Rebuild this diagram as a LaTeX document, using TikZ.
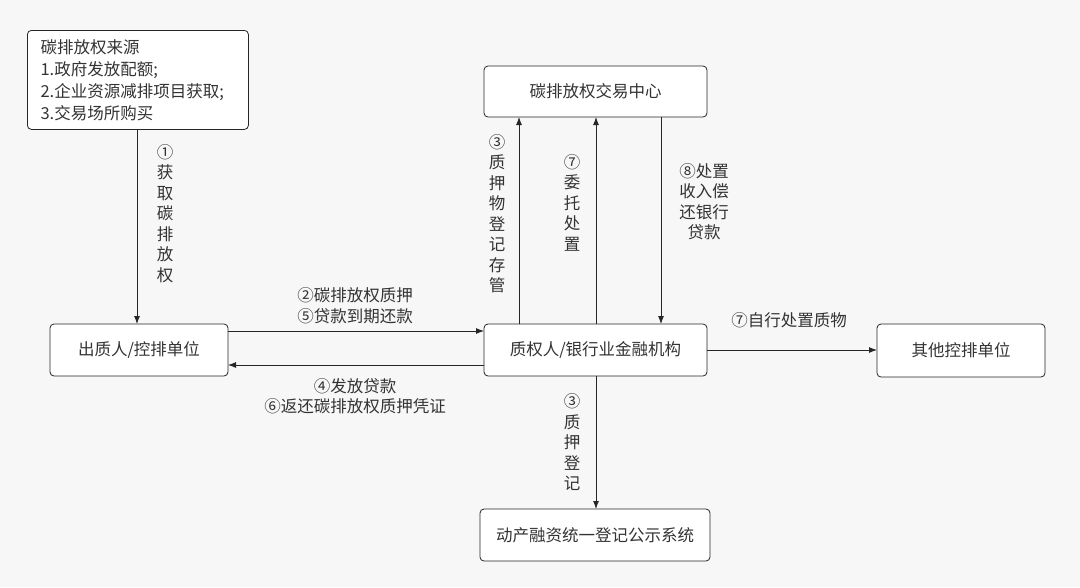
\documentclass[tikz,border=0pt]{standalone}
\usepackage{fontspec}
\setmainfont{Noto Sans CJK SC}
\begin{document}
\begin{tikzpicture}[x=1pt,y=-1pt,
  box/.style={draw=black!85,rounded corners=4pt,line width=0.8pt,inner sep=0pt},
  lbl/.style={font=\fontsize{16.5}{20.5}\selectfont,text=black!80,align=center},
  arr/.style={draw=black!85,line width=0.9pt,-{Latex[length=8pt,width=6pt]}}]
\usetikzlibrary{arrows.meta}
\fill[white!97!black] (0,0) rectangle (1080,587);
\useasboundingbox (0,0) rectangle (1080,587);
\node[box,minimum width=221,minimum height=99,anchor=north west,fill=white] (src) at (27,30) {};
\node[lbl,align=left,anchor=north west,font=\fontsize{16.5}{22}\selectfont] at (37,36) {碳排放权来源\\1.政府发放配额;\\2.企业资源减排项目获取;\\3.交易场所购买};
\node[box,minimum width=223,minimum height=51,fill=white,lbl] (tc) at (595.5,91.5) {碳排放权交易中心};
\node[box,minimum width=178,minimum height=52,fill=white,lbl] (pl) at (139,350) {出质人/控排单位};
\node[box,minimum width=223,minimum height=52,fill=white,lbl] (bk) at (595.5,350) {质权人/银行业金融机构};
\node[box,minimum width=168,minimum height=53,fill=white,lbl] (ot) at (961,350.5) {其他控排单位};
\node[box,minimum width=230,minimum height=52,fill=white,lbl] (rg) at (595,535) {动产融资统一登记公示系统};
\coordinate (a1) at (137,129); \coordinate (a2) at (137,324);
\draw[arr] (a1) -- (a2);
\node[lbl,anchor=north] at (165,141) {①\\获\\取\\碳\\排\\放\\权};
\coordinate (b1) at (228,331); \coordinate (b2) at (484,331);
\draw[arr] (b1) -- (b2);
\node[lbl,anchor=south] at (355,327) {②碳排放权质押\\⑤贷款到期还款};
\coordinate (c1) at (484,365); \coordinate (c2) at (228,365);
\draw[arr] (c1) -- (c2);
\node[lbl,anchor=north] at (355,375) {④发放贷款\\⑥返还碳排放权质押凭证};
\coordinate (d1) at (519,324); \coordinate (d2) at (519,117);
\draw[arr] (d1) -- (d2);
\node[lbl,anchor=north] at (497,131) {③\\质\\押\\物\\登\\记\\存\\管};
\coordinate (e1) at (596,324); \coordinate (e2) at (596,117);
\draw[arr] (e1) -- (e2);
\node[lbl,anchor=north] at (572,151) {⑦\\委\\托\\处\\置};
\coordinate (f1) at (661,117); \coordinate (f2) at (661,324);
\draw[arr] (f1) -- (f2);
\node[lbl,anchor=north] at (704,160) {⑧处置\\收入偿\\还银行\\贷款};
\coordinate (g1) at (707,350); \coordinate (g2) at (877,350);
\draw[arr] (g1) -- (g2);
\node[lbl] at (789,320) {⑦自行处置质物};
\coordinate (h1) at (596,376); \coordinate (h2) at (596,509);
\draw[arr] (h1) -- (h2);
\node[lbl,anchor=north] at (572,390) {③\\质\\押\\登\\记};
\end{tikzpicture}
\end{document}
